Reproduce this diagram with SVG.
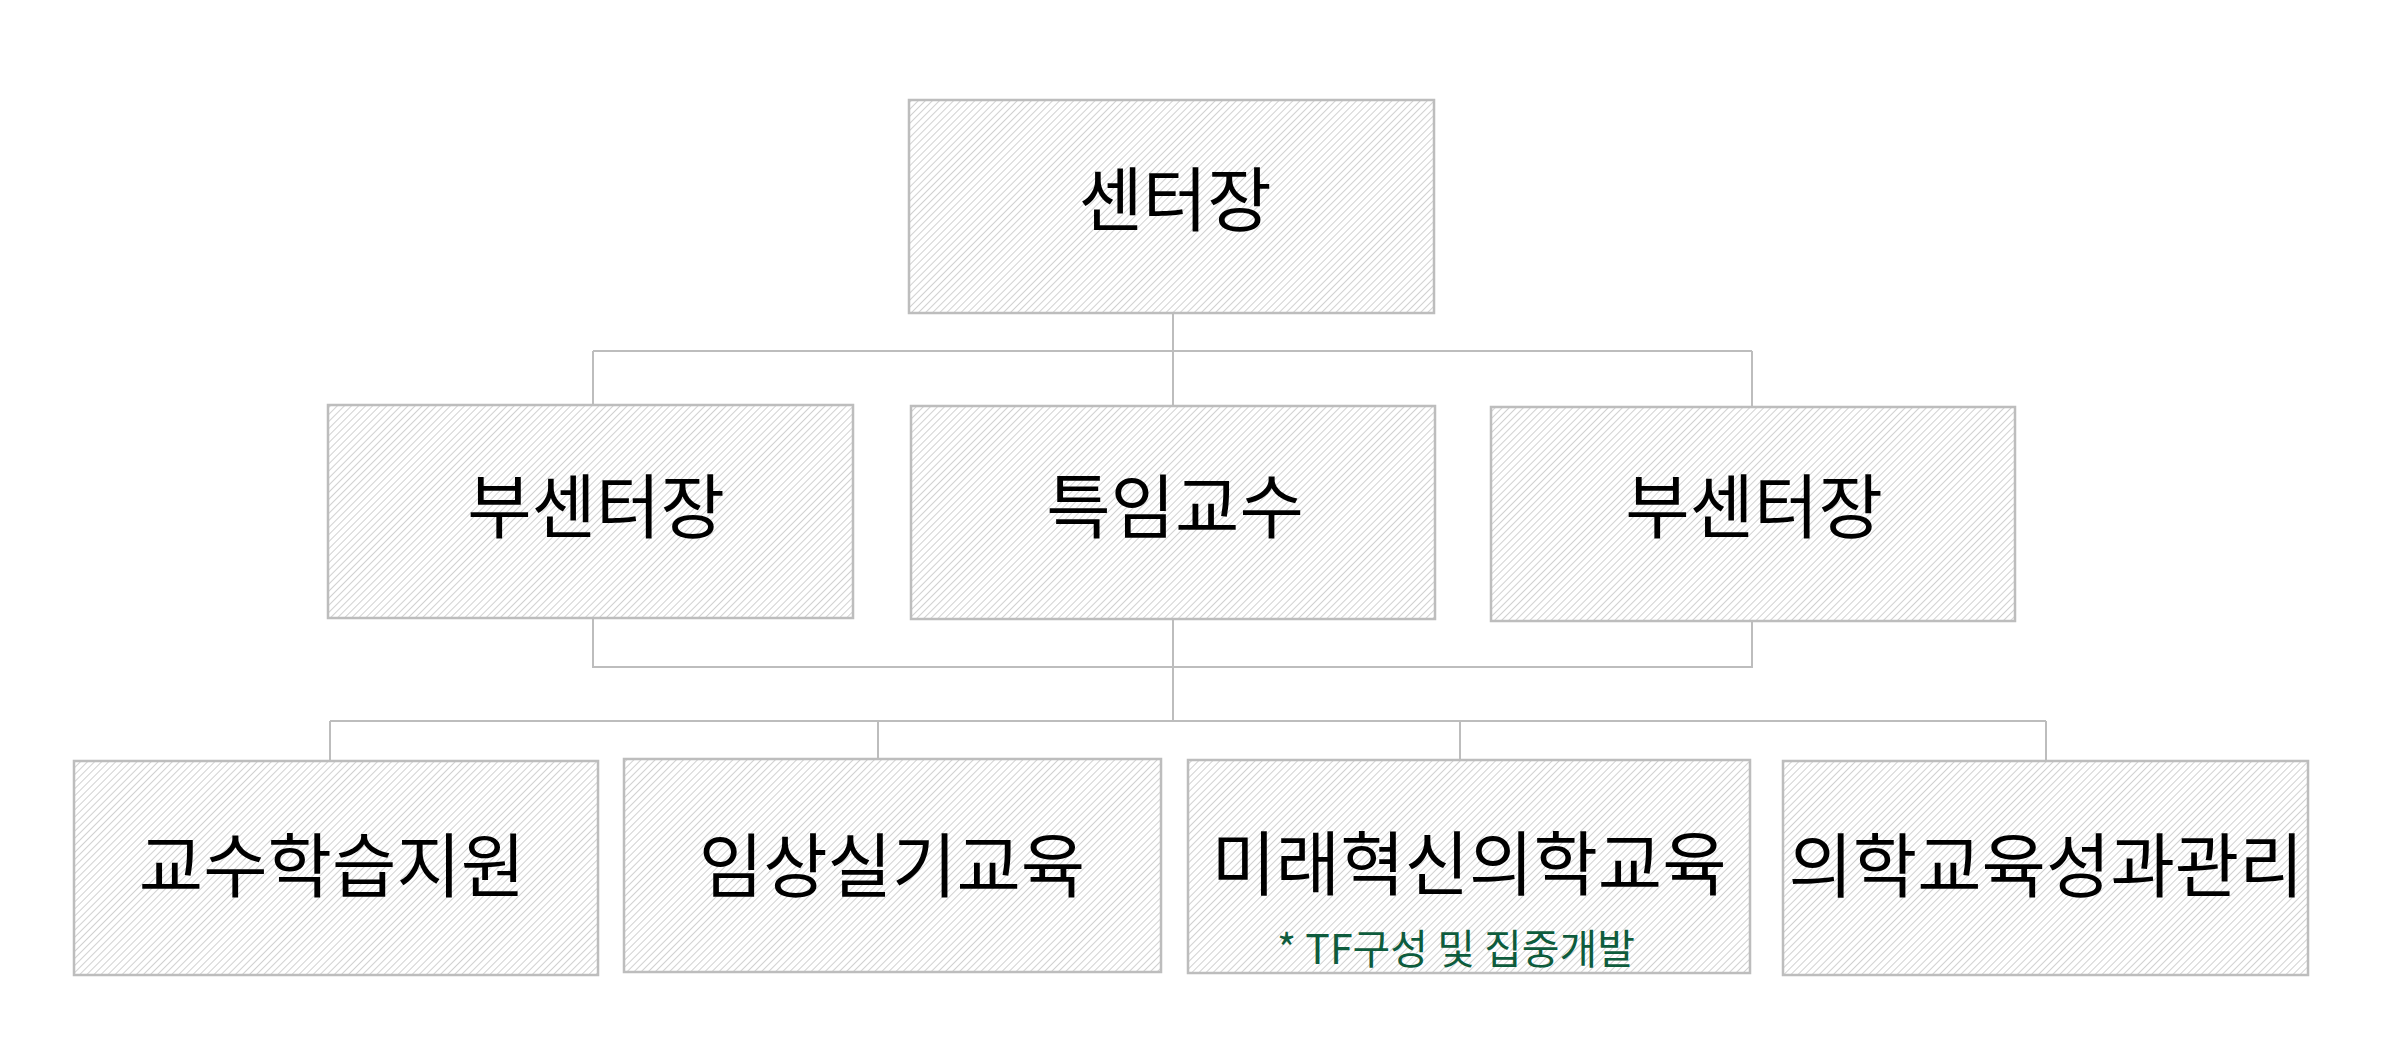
<svg xmlns="http://www.w3.org/2000/svg" width="2400" height="1047" viewBox="0 0 2400 1047">
<defs>
<pattern id="hatch" patternUnits="userSpaceOnUse" width="5" height="5" patternTransform="rotate(45)">
<rect width="5" height="5" fill="#ffffff"/>
<line x1="0" y1="0" x2="0" y2="5" stroke="#cccccc" stroke-width="1.8"/>
</pattern>
</defs>
<style>
.box{fill:url(#hatch);stroke:#bdbdbd;stroke-width:2.5}
.lbl{font-family:"Noto Sans CJK KR","Noto Sans",sans-serif;font-size:70px;fill:#000;text-anchor:middle}
.sub{font-family:"Noto Sans CJK KR","Noto Sans",sans-serif;font-size:41px;fill:#0e5c3d;text-anchor:middle}
.conn{fill:none;stroke:#bdbdbd;stroke-width:2}
</style>
<rect width="2400" height="1047" fill="#ffffff"/>
<g id="connectors" class="conn">
<path d="M1173 313 V351 M593 351 H1752 M593 351 V405 M1173 351 V406 M1752 351 V407"/>
<path d="M593 618 V667 H1752 V621 M1173 619 V721"/>
<path d="M330 721 H2046 M330 721 V761 M878 721 V759 M1460 721 V760 M2046 721 V761"/>
</g>
<g id="n-center">
<rect class="box" x="909" y="100" width="525" height="213"/>
<text class="lbl" x="1175" y="226">센터장</text>
</g>
<g id="n-vice1">
<rect class="box" x="328" y="405" width="525" height="213"/>
<text class="lbl" x="596" y="533">부센터장</text>
</g>
<g id="n-prof">
<rect class="box" x="911" y="406" width="524" height="213"/>
<text class="lbl" x="1175" y="533">특임교수</text>
</g>
<g id="n-vice2">
<rect class="box" x="1491" y="407" width="524" height="214"/>
<text class="lbl" x="1754" y="533">부센터장</text>
</g>
<g id="n-teach">
<rect class="box" x="74" y="761" width="524" height="214"/>
<text class="lbl" x="332" y="892">교수학습지원</text>
</g>
<g id="n-clinic">
<rect class="box" x="624" y="759" width="537" height="213"/>
<text class="lbl" x="892" y="892">임상실기교육</text>
</g>
<g id="n-future">
<rect class="box" x="1188" y="760" width="562" height="213"/>
<text class="lbl" x="1469" y="890">미래혁신의학교육</text>
<text class="sub" x="1456" y="964">* TF구성 및 집중개발</text>
</g>
<g id="n-outcome">
<rect class="box" x="1783" y="761" width="525" height="214"/>
<text class="lbl" x="2046" y="892">의학교육성과관리</text>
</g>
</svg>
